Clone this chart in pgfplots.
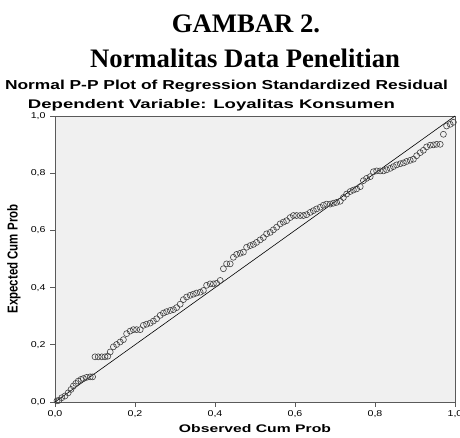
\documentclass[border=0pt]{standalone}
\usepackage{fontspec}
\setmainfont{Liberation Sans}
\newfontfamily\timesfont{Liberation Serif}
\usepackage{graphicx}
\usepackage{pgfplots}
\usepackage{pgfplotstable}
\pgfplotsset{compat=1.18}
\definecolor{bgcol}{RGB}{240,240,240}
\definecolor{framecol}{RGB}{90,90,90}
\definecolor{markcol}{RGB}{65,65,65}

\pgfplotstableread{
x y
0.005 0.004
0.010 0.006
0.017 0.015
0.025 0.021
0.033 0.032
0.040 0.044
0.046 0.056
0.052 0.065
0.058 0.073
0.065 0.079
0.071 0.082
0.079 0.086
0.088 0.088
0.094 0.088
0.100 0.158
0.108 0.158
0.117 0.158
0.125 0.158
0.132 0.160
0.138 0.175
0.146 0.193
0.154 0.201
0.163 0.210
0.171 0.218
0.179 0.239
0.188 0.248
0.196 0.253
0.204 0.253
0.213 0.253
0.221 0.268
0.229 0.272
0.238 0.276
0.246 0.283
0.254 0.291
0.263 0.303
0.271 0.311
0.279 0.316
0.288 0.320
0.296 0.323
0.304 0.330
0.313 0.342
0.321 0.358
0.329 0.367
0.338 0.373
0.346 0.377
0.354 0.381
0.363 0.384
0.371 0.390
0.379 0.408
0.388 0.413
0.396 0.413
0.404 0.415
0.413 0.425
0.421 0.466
0.429 0.483
0.438 0.483
0.446 0.506
0.454 0.516
0.463 0.520
0.471 0.524
0.479 0.541
0.488 0.547
0.496 0.551
0.504 0.558
0.513 0.567
0.521 0.575
0.529 0.588
0.538 0.593
0.546 0.602
0.554 0.611
0.563 0.623
0.571 0.629
0.579 0.634
0.588 0.645
0.596 0.652
0.604 0.652
0.613 0.652
0.621 0.652
0.629 0.655
0.638 0.663
0.646 0.669
0.654 0.675
0.663 0.681
0.671 0.688
0.679 0.692
0.688 0.692
0.696 0.695
0.704 0.698
0.713 0.702
0.721 0.715
0.729 0.727
0.738 0.736
0.746 0.741
0.754 0.745
0.763 0.753
0.771 0.774
0.779 0.782
0.788 0.788
0.796 0.805
0.804 0.808
0.813 0.808
0.821 0.808
0.829 0.812
0.838 0.817
0.846 0.823
0.854 0.829
0.863 0.833
0.871 0.836
0.879 0.841
0.888 0.845
0.896 0.849
0.904 0.861
0.913 0.872
0.921 0.880
0.929 0.892
0.938 0.898
0.946 0.899
0.954 0.901
0.963 0.901
0.971 0.936
0.979 0.965
0.988 0.971
0.996 0.978
}\pptable

\begin{document}
\begin{tikzpicture}
\useasboundingbox (0,0) rectangle (460pt,438pt);

% headings
\node[anchor=base, inner sep=0pt] at (246pt,405pt)
  {\timesfont\bfseries\fontsize{26.7}{30}\selectfont GAMBAR 2.};
\node[anchor=base, inner sep=0pt] at (245pt,370pt)
  {\timesfont\bfseries\fontsize{26.7}{30}\selectfont Normalitas Data Penelitian};
\node[anchor=base, inner sep=0pt] at (226.5pt,348pt)
  {\resizebox{443pt}{\height}{\bfseries\fontsize{13}{15}\selectfont Normal P-P Plot of Regression Standardized Residual}};
\node[anchor=base, inner sep=0pt] at (211.5pt,329pt)
  {\resizebox{367pt}{\height}{\bfseries\fontsize{12.5}{15}\selectfont Dependent Variable: Loyalitas Konsumen}};

\begin{axis}[
  at={(55pt,36pt)}, anchor=south west,
  scale only axis,
  width=400pt, height=286pt,
  xmin=0, xmax=1, ymin=0, ymax=1,
  clip=false,
  axis background/.style={fill=bgcol},
  axis line style={framecol, line width=0.9pt},
  xtick={0,0.2,0.4,0.6,0.8,1},
  ytick={0,0.2,0.4,0.6,0.8,1},
  xtick pos=bottom, ytick pos=left,
  tick align=outside,
  major tick length=5pt,
  tick style={framecol, line width=0.8pt},
  /pgf/number format/assume math mode=true,
  /pgf/number format/use comma,
  /pgf/number format/fixed,
  /pgf/number format/fixed zerofill,
  /pgf/number format/precision=1,
  x tick label style={font=\fontsize{8.5}{9}\selectfont, xscale=1.25},
  y tick label style={font=\fontsize{8.5}{9}\selectfont, xscale=1.25},
  xlabel={\resizebox{152pt}{\height}{\bfseries\fontsize{11}{13}\selectfont Observed Cum Prob}},
  ylabel={\resizebox{109pt}{1.25\height}{\bfseries\fontsize{11.5}{13}\selectfont Expected Cum Prob}},
  xlabel style={at={(axis description cs:0.5,0)}, anchor=base, yshift=-31pt, inner sep=0pt},
  ylabel style={at={(axis description cs:-0.1025,0.5)}, anchor=center, inner sep=0pt},
]
\addplot[only marks, mark=o, mark size=3pt,
  mark options={draw=markcol, line width=0.6pt}] table[x=x, y=y] {\pptable};
\addplot[black, line width=0.6pt, no marks] coordinates {(0,0) (1,1)};
\end{axis}
\end{tikzpicture}
\end{document}
